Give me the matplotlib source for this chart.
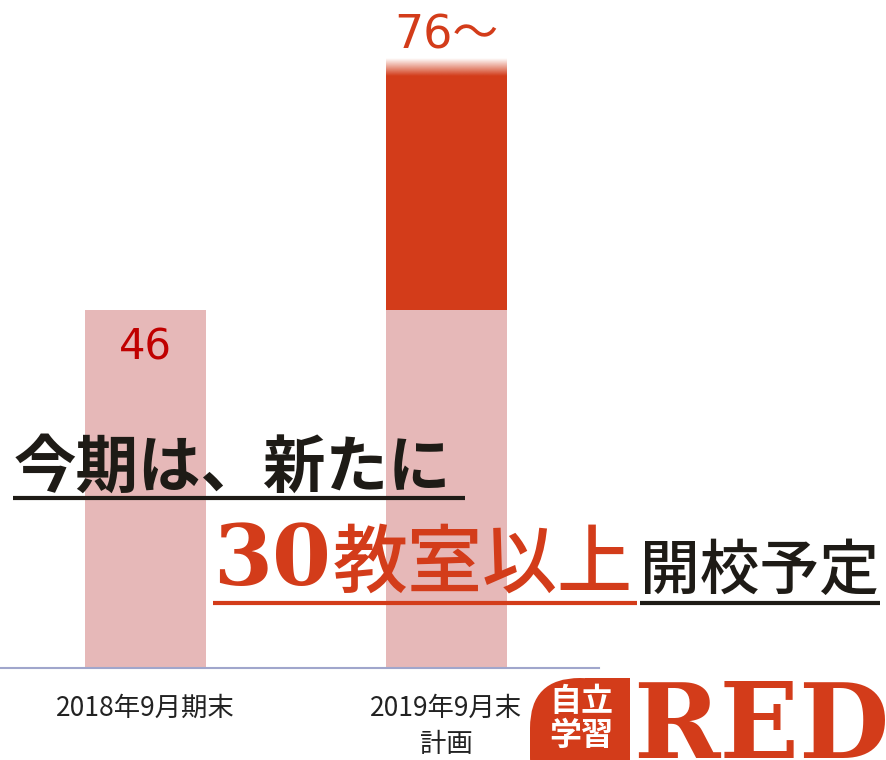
import matplotlib
matplotlib.use("Agg")
import matplotlib.pyplot as plt
import matplotlib.colors as mcolors
import numpy as np
from matplotlib.patches import FancyBboxPatch, Rectangle

plt.rcParams["font.family"] = ["Noto Sans CJK JP", "DejaVu Sans"]

# data
categories = ["2018年9月期末", "2019年9月末\n計画"]
current = [46, 46]          # existing classrooms
planned_add = [0, 30]       # new classrooms planned this term
value_labels = ["46", "76～"]

RED = "#d33c1a"
PINK = "#e6b8b8"
INK = "#1e1b16"

fig = plt.figure(figsize=(8.87, 7.6), dpi=100)

# main chart, pixel-matched to the reference frame
ax = fig.add_axes([0, 92 / 760, 599 / 887, 668 / 760])
x = np.arange(len(categories))
w = 0.40
ax.bar(x, current, width=w, color=PINK, zorder=2)
ax.bar(x, planned_add, width=w, bottom=current, color=RED, zorder=2)

# faded top edge on the planned bar
total = [c + p for c, p in zip(current, planned_add)]
grad = np.zeros((64, 1, 4))
grad[..., :3] = mcolors.to_rgb(RED)
grad[:, 0, 3] = np.linspace(1, 0, 64)
ax.imshow(grad, extent=[x[1] - w / 2, x[1] + w / 2, total[1], total[1] + 2.2],
          origin="lower", aspect="auto", interpolation="bilinear", zorder=3)

ax.set_xlim(-0.483, 1.507)
ax.set_ylim(0, 85.8)

# value labels
ax.annotate(value_labels[0], (x[0], total[0]), xytext=(0, -27), textcoords="offset points",
            ha="center", va="center", fontsize=30, color="#c00000",
            family=["DejaVu Sans", "Noto Sans CJK JP"])
ax.annotate(value_labels[1], (x[1], total[1]), xytext=(0, 29), textcoords="offset points",
            ha="center", va="center", fontsize=33, color=RED,
            family=["DejaVu Sans", "Noto Sans CJK JP"])

for s in ["top", "right", "left"]:
    ax.spines[s].set_visible(False)
ax.spines["bottom"].set_color("#a0a6cc")
ax.spines["bottom"].set_linewidth(1.5)
ax.set_yticks([])
ax.set_xticks(x, categories)
ax.tick_params(axis="x", length=0, pad=19, labelsize=19, labelcolor="#222222")
for tl in ax.get_xticklabels():
    tl.set_linespacing(1.45)
ax.set_facecolor("none")

# overlay in pixel coordinates for the headline and logo
ov = fig.add_axes([0, 0, 1, 1])
ov.set_xlim(0, 887)
ov.set_ylim(760, 0)
ov.axis("off")

ov.text(14, 468, "今期は、新たに", fontsize=45, fontweight="bold", color=INK,
        ha="left", va="center")
ov.plot([13, 465], [498, 498], color=INK, lw=3, solid_capstyle="butt")

ov.text(213, 562, "30", family="DejaVu Serif", fontweight="bold", fontsize=61,
        color=RED, ha="left", va="center")
ov.text(333, 566, "教室以上", fontsize=54, fontweight="medium", color=RED,
        ha="left", va="center")
ov.text(640, 571, "開校予定", fontsize=43, fontweight="medium", color=INK,
        ha="left", va="center")
ov.plot([213, 637], [603, 603], color=RED, lw=3, solid_capstyle="butt")
ov.plot([640, 880], [603, 603], color=INK, lw=3, solid_capstyle="butt")

# logo
ov.add_patch(FancyBboxPatch((530, 678), 100, 130, boxstyle="round,pad=0,rounding_size=50",
                            color=RED, lw=0))
ov.add_patch(Rectangle((585, 678), 45, 100, color=RED, lw=0))
ov.text(581, 719, "自立\n学習", fontsize=23, fontweight="bold", color="white",
        ha="center", va="center", linespacing=1.05)
ov.text(633, 758, "RED", family="DejaVu Serif", fontweight="bold", fontsize=75,
        color=RED, ha="left", va="baseline")

fig.savefig("out.png", dpi=100)
